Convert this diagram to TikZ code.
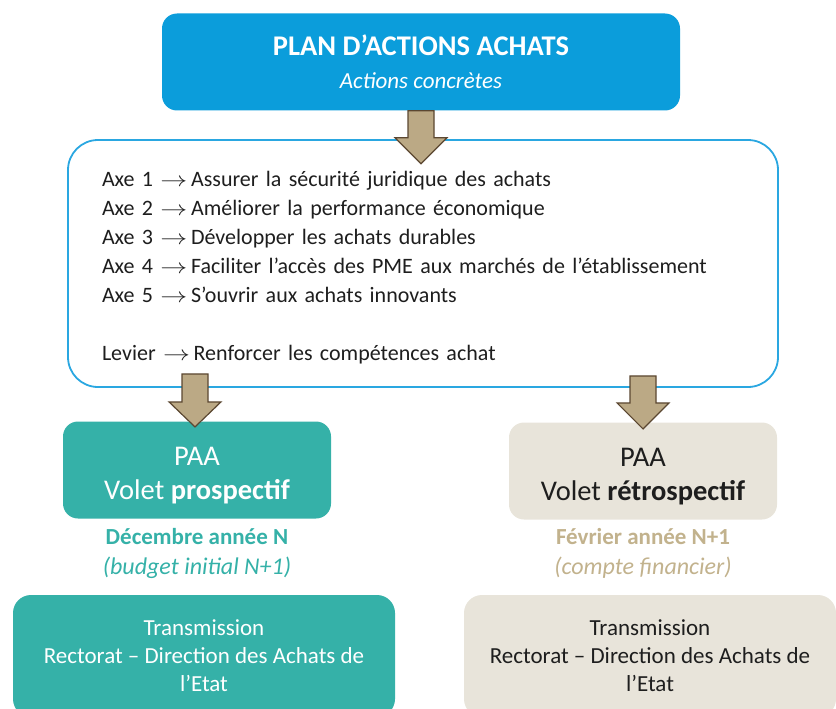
\documentclass[tikz,border=0pt]{standalone}
\usepackage{fontspec}
\setmainfont{Carlito}
\usetikzlibrary{positioning,calc}

\definecolor{bleuPlan}{HTML}{0B9DDB}
\definecolor{bleuCadre}{HTML}{2AA7E1}
\definecolor{vertPAA}{HTML}{35B1A8}
\definecolor{beigePAA}{HTML}{E8E4DA}
\definecolor{beigeTexte}{HTML}{C2B28D}
\definecolor{brunFleche}{HTML}{BBA985}
\definecolor{brunBord}{HTML}{5B4731}
\definecolor{texteNoir}{HTML}{1E1E1E}

% petite fleche du texte
\newcommand{\vers}{\scalebox{1.3}[1]{$\rightarrow$}\,}
% grosse fleche vers le bas : depart, longueur du corps, longueur de la pointe
\newcommand{\fleche}[3]{%
  \draw[fleche] (#1) ++(-13,0) -- ++(0,#2) -- ++(-13,0) -- ++(26,#3)
    -- ++(26,-#3) -- ++(-13,0) -- ++(0,-#2) -- cycle;}

\begin{document}
\begin{tikzpicture}[
    x=1pt, y=-1pt,
    boite/.style={rectangle, rounded corners=15pt, align=center, inner sep=0pt},
    cadre/.style={rectangle, draw=bleuCadre, line width=1.8pt, rounded corners=30pt,
        align=left, text width=642pt, inner xsep=34pt, inner ysep=0pt,
        minimum height=247pt, text=texteNoir, font=\fontsize{22}{29}\selectfont},
    paa/.style={boite, minimum width=268pt, minimum height=97pt,
        font=\fontsize{28.5}{34}\selectfont},
    date/.style={align=center, inner sep=0pt, font=\fontsize{23}{30}\selectfont},
    transm/.style={boite, rounded corners=18pt, minimum height=122pt,
        font=\fontsize{23}{28}\selectfont},
    fleche/.style={fill=brunFleche, draw=brunBord, line width=1.2pt, line join=miter}
]
    \useasboundingbox (0,0) rectangle (836,709);
    \clip (0,0) rectangle (836,709);

    \node[boite, fill=bleuPlan, text=white, minimum width=518pt, minimum height=97pt,
        font=\fontsize{23}{33}\selectfont] (plan) at (421,62)
        {{\fontsize{28.5}{33}\selectfont\bfseries PLAN D’ACTIONS ACHATS}\\\itshape Actions concrètes};

    \node[cadre] (axes) at (423,263.5) {%
        \rule{0pt}{23pt}Axe 1 \vers Assurer la sécurité juridique des achats\\
        Axe 2 \vers Améliorer la performance économique\\
        Axe 3 \vers Développer les achats durables\\
        Axe 4 \vers Faciliter l’accès des PME aux marchés de l’établissement\\
        Axe 5 \vers S’ouvrir aux achats innovants\\[29pt]
        Levier \vers Renforcer les compétences achat};

    \node[paa, fill=vertPAA, text=white] (paaG) at (197,470)
        {\rule{0pt}{30pt}PAA\\Volet \textbf{prospectif}};
    \node[paa, fill=beigePAA, text=texteNoir] (paaD) at (643,471)
        {\rule{0pt}{30pt}PAA\\Volet \textbf{rétrospectif}};

    \node[date, text=vertPAA, below=9pt of paaG] (decG)
        {\textbf{Décembre année N}\\\fontsize{24}{30}\selectfont\textit{(budget initial N+1)}};
    \node[date, text=beigeTexte, below=8pt of paaD] (fevD)
        {\textbf{Février année N+1}\\\fontsize{24}{30}\selectfont\textit{(compte financier)}};

    \node[transm, fill=vertPAA, text=white, minimum width=382pt] (transG) at (204,656)
        {Transmission\\Rectorat – Direction des Achats de\\l’Etat};
    \node[transm, fill=beigePAA, text=texteNoir, minimum width=372pt] (transD) at (650,656)
        {Transmission\\Rectorat – Direction des Achats de\\l’Etat};

    % fleches
    \fleche{plan.south}{27}{26}
    \fleche{$(axes.south -| paaG.north)+(-2,-14)$}{28}{25}
    \fleche{$(axes.south -| paaD.north)+(0,-12)$}{27}{26}
\end{tikzpicture}
\end{document}
